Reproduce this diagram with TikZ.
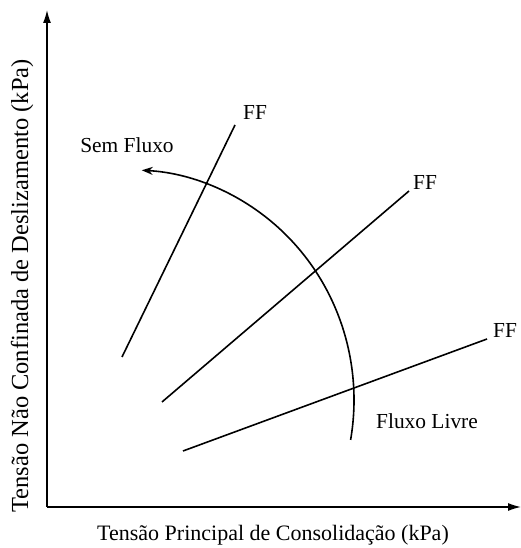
\documentclass[tikz,border=0pt]{standalone}
\usepackage{fontspec}
\setmainfont{Liberation Serif}
\usetikzlibrary{arrows.meta}
\begin{document}
\begin{tikzpicture}[x=1pt,y=1pt,
  axis/.style={line width=1.3pt,-{Latex[length=13pt,width=8pt]}},
  ffline/.style={line width=1.6pt},
  flow/.style={line width=1.6pt,-{Stealth[length=11pt,width=8pt]}},
  lbl/.style={font=\fontsize{21.4}{25}\selectfont,inner sep=0pt}]
\useasboundingbox (0,0) rectangle (521,548);
\fill[white] (0,0) rectangle (521,548);
% axes
\coordinate (O) at (47,41);
\coordinate (Ytop) at (47,538);
\coordinate (Xend) at (521,41);
\draw[axis] (O) -- (Ytop);
\draw[axis] (O) -- (Xend);
% FF lines
\coordinate (a1) at (122,191); \coordinate (b1) at (235,423);
\coordinate (a2) at (162,146); \coordinate (b2) at (409,357);
\coordinate (a3) at (183,97);  \coordinate (b3) at (487,209);
\draw[ffline] (a1) -- (b1);
\draw[ffline] (a2) -- (b2);
\draw[ffline] (a3) -- (b3);
\node[lbl] (ff1) at (255,435) {FF};
\node[lbl] (ff2) at (425,365) {FF};
\node[lbl] (ff3) at (505,218) {FF};
% flow arc
\coordinate (arcstart) at (350.6,108.1);
\draw[flow] (arcstart) arc[start angle=-10,end angle=87,x radius=224pt,y radius=230pt];
\node[lbl] (sem) at (127,403) {Sem Fluxo};
\node[lbl] (livre) at (427,127) {Fluxo Livre};
% axis labels
\node[lbl,font=\fontsize{22}{26}\selectfont] (xlab) at (273,13) {Tensão Principal de Consolidação (kPa)};
\node[lbl,rotate=90,font=\fontsize{24.5}{28}\selectfont] (ylab) at (22,262) {Tensão Não Confinada de Deslizamento (kPa)};
\end{tikzpicture}
\end{document}
